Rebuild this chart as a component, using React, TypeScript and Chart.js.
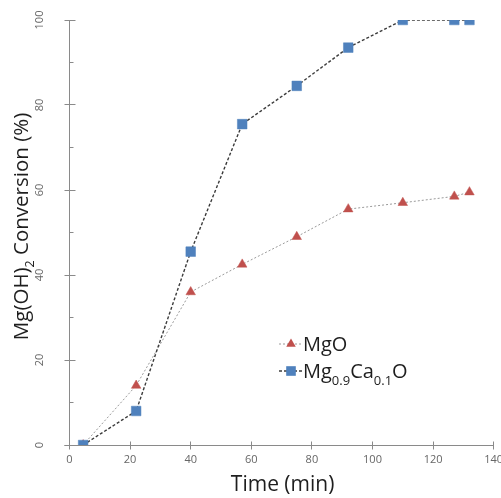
import { useEffect, useRef } from "react";
import { Chart, registerables } from "chart.js";

Chart.register(...registerables);

// Reaction time (min)
const timeMin = [4.5, 22, 40, 57, 75, 92, 110, 127, 132];
// Mg(OH)2 conversion (%) for each oxide
const mgoConversion = [0, 14, 36, 42.5, 49, 55.5, 57, 58.5, 59.5];
const mgCaConversion = [0, 8, 45.5, 75.5, 84.5, 93.5, 100, 100, 100];

const xTickValues = [0, 20, 40, 60, 80, 100, 120, 140];
const yTickValues = [0, 20, 40, 60, 80, 100];
const yMinorValues = [10, 30, 50, 70, 90];

type Seg = { t: string; sub?: boolean };
const mgoLabel: Seg[] = [{ t: "MgO" }];
const mgCaLabel: Seg[] = [
  { t: "Mg" },
  { t: "0.9", sub: true },
  { t: "Ca" },
  { t: "0.1", sub: true },
  { t: "O" },
];
const yTitle: Seg[] = [{ t: "Mg(OH)" }, { t: "2", sub: true }, { t: " Conversion (%)" }];
const xTitle = "Time (min)";

const FONT = "'Open Sans', 'Noto Sans', sans-serif";
const AXIS = "#8a8a8a";
const TICK_TEXT = "#666666";
const TEXT = "#1e1e1e";
const RED = "#C0504D";
const BLUE = "#4F81BD";

function drawSegs(
  ctx: CanvasRenderingContext2D,
  segs: Seg[],
  x: number,
  y: number,
  size: number,
  subSize: number,
  subShift: number,
  align: "left" | "center"
) {
  const widths = segs.map((s) => {
    ctx.font = `${s.sub ? subSize : size}px ${FONT}`;
    return ctx.measureText(s.t).width;
  });
  const total = widths.reduce((a, b) => a + b, 0);
  let cx = align === "center" ? x - total / 2 : x;
  ctx.textAlign = "left";
  ctx.textBaseline = "alphabetic";
  segs.forEach((s, i) => {
    ctx.font = `${s.sub ? subSize : size}px ${FONT}`;
    ctx.fillText(s.t, cx, y + (s.sub ? subShift : 0));
    cx += widths[i];
  });
}

const crisp = (v: number) => Math.floor(v) + 0.5;

const decorPlugin = {
  id: "decor",
  beforeDatasetsDraw(chart: any) {
    const { ctx, scales } = chart;
    const xs = scales.x;
    const ys = scales.y;
    const x0 = crisp(xs.getPixelForValue(0));
    const y0 = crisp(ys.getPixelForValue(0));
    const yTop = ys.getPixelForValue(100);
    ctx.save();
    ctx.strokeStyle = AXIS;
    ctx.lineWidth = 1;
    ctx.beginPath();
    // y axis line and ticks
    ctx.moveTo(x0, yTop);
    ctx.lineTo(x0, y0);
    yTickValues.forEach((v) => {
      const p = crisp(ys.getPixelForValue(v));
      ctx.moveTo(x0 - 5, p);
      ctx.lineTo(x0 + 6, p);
    });
    yMinorValues.forEach((v) => {
      const p = crisp(ys.getPixelForValue(v));
      ctx.moveTo(x0, p);
      ctx.lineTo(x0 + 4, p);
    });
    // x axis line and ticks
    ctx.moveTo(x0 - 5, y0);
    ctx.lineTo(xs.getPixelForValue(140), y0);
    xTickValues.forEach((v) => {
      const p = crisp(xs.getPixelForValue(v));
      ctx.moveTo(p, y0 - 4);
      ctx.lineTo(p, y0 + 4);
    });
    ctx.stroke();

    // rotated y tick labels
    ctx.fillStyle = TICK_TEXT;
    ctx.font = `11px ${FONT}`;
    ctx.textAlign = "center";
    ctx.textBaseline = "middle";
    yTickValues.forEach((v) => {
      ctx.save();
      ctx.translate(40, ys.getPixelForValue(v));
      ctx.rotate(-Math.PI / 2);
      ctx.fillText(String(v), 0, 0);
      ctx.restore();
    });
    ctx.restore();
  },
  afterDraw(chart: any) {
    const { ctx, chartArea } = chart;
    ctx.save();
    ctx.fillStyle = TEXT;
    // y title
    ctx.save();
    ctx.translate(28, (chartArea.top + chartArea.bottom) / 2 - 6);
    ctx.rotate(-Math.PI / 2);
    drawSegs(ctx, yTitle, 0, 0, 20.5, 12.5, 6, "center");
    ctx.restore();
    // x title
    ctx.font = `21px ${FONT}`;
    ctx.textAlign = "center";
    ctx.textBaseline = "alphabetic";
    ctx.fillText(xTitle, (chartArea.left + chartArea.right) / 2 + 1, 491);

    // legend
    const rows = [
      { ds: chart.data.datasets[0], segs: mgoLabel, y: 344 },
      { ds: chart.data.datasets[1], segs: mgCaLabel, y: 371 },
    ];
    rows.forEach(({ ds, segs, y }) => {
      ctx.save();
      ctx.strokeStyle = ds.borderColor;
      ctx.lineWidth = ds.borderWidth;
      ctx.setLineDash(ds.borderDash);
      ctx.beginPath();
      ctx.moveTo(279, y);
      ctx.lineTo(302, y);
      ctx.stroke();
      ctx.setLineDash([]);
      ctx.fillStyle = ds.pointBackgroundColor;
      ctx.beginPath();
      if (ds.pointStyle === "triangle") {
        const r = ds.pointRadius;
        ctx.moveTo(291, y - r);
        ctx.lineTo(291 + r * 0.866, y + r / 2);
        ctx.lineTo(291 - r * 0.866, y + r / 2);
        ctx.closePath();
      } else {
        const h = ds.pointRadius * Math.SQRT1_2;
        ctx.rect(291 - h, y - h, 2 * h, 2 * h);
      }
      ctx.fill();
      ctx.restore();
      ctx.fillStyle = TEXT;
      drawSegs(ctx, segs, 303, y + 7, 20, 13, 7, "left");
    });
    ctx.restore();
  },
};

export default function App() {
  const ref = useRef<HTMLCanvasElement | null>(null);

  useEffect(() => {
    if (!ref.current) return;
    const chart = new Chart(ref.current, {
      type: "line",
      data: {
        datasets: [
          {
            label: "MgO",
            data: timeMin.map((x, i) => ({ x, y: mgoConversion[i] })),
            borderColor: "#9a9a9a",
            borderWidth: 1,
            borderDash: [2, 2],
            pointStyle: "triangle",
            pointRadius: 5.5,
            pointBackgroundColor: RED,
            pointBorderColor: RED,
            pointBorderWidth: 0.5,
            tension: 0,
            order: 1,
          } as any,
          {
            label: "Mg0.9Ca0.1O",
            data: timeMin.map((x, i) => ({ x, y: mgCaConversion[i] })),
            borderColor: "#3c3c3c",
            borderWidth: 1.4,
            borderDash: [3, 2],
            pointStyle: "rect",
            pointRadius: 6.8,
            pointBackgroundColor: BLUE,
            pointBorderColor: BLUE,
            pointBorderWidth: 0.5,
            tension: 0,
            order: 0,
          } as any,
        ],
      },
      options: {
        responsive: false,
        animation: false,
        layout: { padding: { left: 0, right: 6, top: 20, bottom: 0 } },
        plugins: { legend: { display: false }, tooltip: { enabled: false } },
        scales: {
          x: {
            type: "linear",
            min: 0,
            max: 140,
            ticks: {
              stepSize: 20,
              color: TICK_TEXT,
              font: { size: 11, family: FONT },
              padding: 8,
              maxRotation: 0,
              autoSkip: false,
            },
            grid: { display: false, drawTicks: false },
            border: { display: false },
            afterFit(s: any) {
              s.height = 53;
              s.paddingLeft = 0;
              s.paddingRight = 0;
            },
          },
          y: {
            type: "linear",
            min: 0,
            max: 100,
            ticks: { display: false, stepSize: 20 },
            grid: { display: false, drawTicks: false },
            border: { display: false },
            afterFit(s: any) {
              s.width = 69.5;
              s.paddingTop = 0;
              s.paddingBottom = 0;
            },
          },
        },
      },
      plugins: [decorPlugin],
    });
    return () => chart.destroy();
  }, []);

  return (
    <div style={{ position: "fixed", left: 0, top: 0, width: 501, height: 498, background: "#fff" }}>
      <canvas ref={ref} width={501} height={498} style={{ display: "block" }} />
    </div>
  );
}
